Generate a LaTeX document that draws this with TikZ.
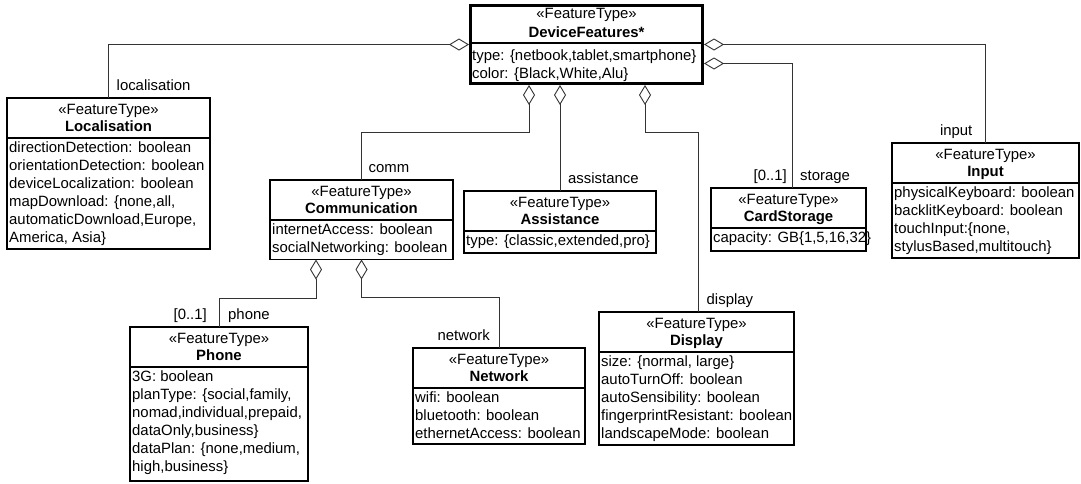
\documentclass[tikz,border=0pt]{standalone}
\usepackage{fontspec}
\setmainfont{Liberation Sans}
\usetikzlibrary{arrows.meta,calc}
\newcommand{\dfont}{\fontsize{14.9}{18}\selectfont}
\tikzset{
  boxline/.style={draw=black, line width=1.1pt},
  umlbox/.style={draw=black, line width=1.1pt, outer sep=0pt, inner sep=0pt},
  hdr/.style={anchor=base, inner sep=0pt, font=\dfont},
  namefont/.style={font=\dfont\bfseries},
  attrs/.style={anchor=north west, align=left, inner sep=0pt, font=\dfont},
  agg/.style={draw=black!80, line width=0.9pt, {Diamond[open,length=20pt,width=12pt]}-},
  role/.style={inner sep=0pt, font=\dfont},
}
% name, L, T, R, B, title, attributes
\newcommand{\featbox}[7]{%
  \node[umlbox, anchor=north west, minimum width={#4-#2}, minimum height={#5-#3}] (#1) at (#2,#3) {};
  \draw[boxline] (#2,{#3+40}) -- (#4,{#3+40});
  \node[hdr] (#1-st) at ({(#2+#4)/2},{#3+16}) {«FeatureType»};
  \node[hdr, namefont] (#1-nm) at ({(#2+#4)/2},{#3+33.5}) {#6};
  \node[attrs] (#1-at) at ({#2+2},{#3+41.9}) {\strut #7};
}
\begin{document}
\begin{tikzpicture}[x=1pt,y=-1pt]
\useasboundingbox (0,0) rectangle (1081,483);

% root
\node[draw=black, line width=3pt, outer sep=1.5pt, inner sep=0pt, minimum width=232pt, minimum height=78pt] (df) at (586.5,44.5) {};
\draw[line width=2pt] ([yshift=1.2pt]df.west) -- ([yshift=1.2pt]df.east);
\node[hdr] (df-st) at (586.5,18.3) {«FeatureType»};
\node[hdr, namefont] (df-nm) at (586.5,37.3) {DeviceFeatures*};
\node[attrs] (df-at) at (472,47.4) {\strut type: \{netbook,tablet,smartphone\}\\color: \{Black,White,Alu\}};

\featbox{loc}{7}{98}{210}{249}{Localisation}{directionDetection: boolean\\orientationDetection: boolean\\deviceLocalization: boolean\\mapDownload: \{none,all,\\automaticDownload,Europe,\\America, Asia\}}
\featbox{comm}{270}{180}{453}{259.5}{Communication}{internetAccess: boolean\\socialNetworking: boolean}
\featbox{asst}{464}{191}{656}{253}{Assistance}{type: \{classic,extended,pro\}}
\featbox{cs}{711}{188}{866}{251}{CardStorage}{capacity: GB\{1,5,16,32\}}
\featbox{inp}{892}{143}{1079}{258}{Input}{physicalKeyboard: boolean\\backlitKeyboard: boolean\\touchInput:\{none,\\stylusBased,multitouch\}}
\featbox{ph}{130}{327}{308}{481}{Phone}{3G: boolean\\planType: \{social,family,\\nomad,individual,prepaid,\\dataOnly,business\}\\dataPlan: \{none,medium,\\high,business\}}
\featbox{net}{413}{348}{585}{444}{Network}{wifi: boolean\\bluetooth: boolean\\ethernetAccess: boolean}
\featbox{disp}{599}{312}{794}{445}{Display}{size: \{normal, large\}\\autoTurnOff: boolean\\autoSensibility: boolean\\fingerprintResistant: boolean\\landscapeMode: boolean}

% connectors
\draw[agg] (df.west) -| (loc.north);
\draw[agg] (df.east) -| (inp.north);
\draw[agg] ([yshift=-19pt]df.east) -| ([xshift=3.5pt]cs.north);
\draw[agg] ([xshift=-57.5pt]df.south) -- ++(0,47) -| (comm.north);
\draw[agg] ([xshift=-26.5pt]df.south) -- (asst.north);
\draw[agg] ([xshift=58.5pt]df.south) -- ++(0,47) -| ([xshift=1.5pt]disp.north);
\draw[agg] ([xshift=-45.5pt]comm.south) -- ++(0,39) -| (ph.north);
\draw[agg] (comm.south) -- ++(0,38) -| (net.north);

% role labels
\node[role, anchor=base west] (r-loc) at ($(loc.north)+(8,-8)$) {localisation};
\node[role, anchor=base west] (r-comm) at ($(comm.north)+(7,-8)$) {comm};
\node[role, anchor=base west] (r-asst) at ($(asst.north)+(8,-8)$) {assistance};
\node[role, anchor=base west] (r-cs) at ($(cs.north)+(11.5,-8)$) {storage};
\node[role, anchor=base east] (m-cs) at ($(cs.north)+(-1.5,-8)$) {[0..1]};
\node[role, anchor=base east] (r-inp) at ($(inp.north)+(-13,-8)$) {input};
\node[role, anchor=base west] (r-disp) at ($(disp.north)+(10,-8)$) {display};
\node[role, anchor=base west] (r-ph) at ($(ph.north)+(9,-8)$) {phone};
\node[role, anchor=base east] (m-ph) at ($(ph.north)+(-12,-8)$) {[0..1]};
\node[role, anchor=base east] (r-net) at ($(net.north)+(-9,-8)$) {network};
\end{tikzpicture}
\end{document}
